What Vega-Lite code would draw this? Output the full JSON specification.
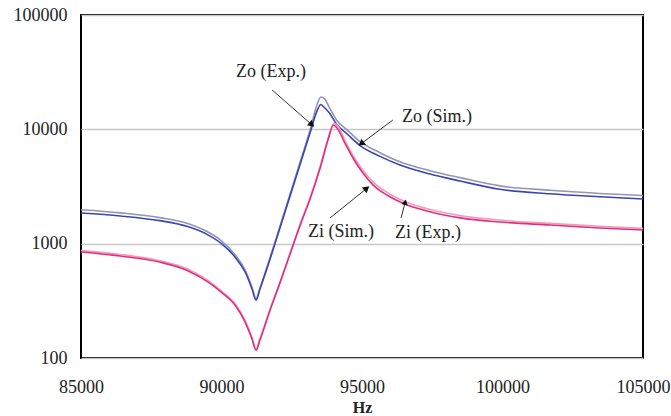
{
  "$schema": "https://vega.github.io/schema/vega-lite/v6.json",
  "autosize": "none",
  "width": 562,
  "height": 343,
  "padding": {"left": 81, "top": 15, "right": 28, "bottom": 58},
  "background": "white",
  "config": {
    "view": {"stroke": "black", "strokeWidth": 2},
    "font": "Liberation Serif"
  },
  "datasets": {
    "curves": [
      {"series": "Zo (Exp.)", "hz": 85000, "z": 1980},
      {"series": "Zo (Exp.)", "hz": 86400, "z": 1860},
      {"series": "Zo (Exp.)", "hz": 87800, "z": 1690},
      {"series": "Zo (Exp.)", "hz": 88800, "z": 1500},
      {"series": "Zo (Exp.)", "hz": 89500, "z": 1270},
      {"series": "Zo (Exp.)", "hz": 90000, "z": 1060},
      {"series": "Zo (Exp.)", "hz": 90480, "z": 800},
      {"series": "Zo (Exp.)", "hz": 90840, "z": 590},
      {"series": "Zo (Exp.)", "hz": 91080, "z": 420},
      {"series": "Zo (Exp.)", "hz": 91230, "z": 330},
      {"series": "Zo (Exp.)", "hz": 91370, "z": 410},
      {"series": "Zo (Exp.)", "hz": 91730, "z": 760},
      {"series": "Zo (Exp.)", "hz": 92080, "z": 1420},
      {"series": "Zo (Exp.)", "hz": 92440, "z": 2720},
      {"series": "Zo (Exp.)", "hz": 92790, "z": 5100},
      {"series": "Zo (Exp.)", "hz": 93150, "z": 9800},
      {"series": "Zo (Exp.)", "hz": 93400, "z": 16500},
      {"series": "Zo (Exp.)", "hz": 93540, "z": 19200},
      {"series": "Zo (Exp.)", "hz": 93680, "z": 18300},
      {"series": "Zo (Exp.)", "hz": 93860, "z": 15200},
      {"series": "Zo (Exp.)", "hz": 94100, "z": 12000},
      {"series": "Zo (Exp.)", "hz": 94470, "z": 9900},
      {"series": "Zo (Exp.)", "hz": 94930, "z": 7800},
      {"series": "Zo (Exp.)", "hz": 95640, "z": 6250},
      {"series": "Zo (Exp.)", "hz": 96350, "z": 5200},
      {"series": "Zo (Exp.)", "hz": 97420, "z": 4350},
      {"series": "Zo (Exp.)", "hz": 98490, "z": 3780},
      {"series": "Zo (Exp.)", "hz": 99910, "z": 3200},
      {"series": "Zo (Exp.)", "hz": 101690, "z": 2930},
      {"series": "Zo (Exp.)", "hz": 103470, "z": 2750},
      {"series": "Zo (Exp.)", "hz": 105000, "z": 2640},

      {"series": "Zo (Sim.)", "hz": 85000, "z": 1854},
      {"series": "Zo (Sim.)", "hz": 86400, "z": 1746},
      {"series": "Zo (Sim.)", "hz": 87800, "z": 1590},
      {"series": "Zo (Sim.)", "hz": 88800, "z": 1410},
      {"series": "Zo (Sim.)", "hz": 89500, "z": 1200},
      {"series": "Zo (Sim.)", "hz": 90000, "z": 1000},
      {"series": "Zo (Sim.)", "hz": 90480, "z": 764},
      {"series": "Zo (Sim.)", "hz": 90840, "z": 565},
      {"series": "Zo (Sim.)", "hz": 91080, "z": 405},
      {"series": "Zo (Sim.)", "hz": 91230, "z": 321},
      {"series": "Zo (Sim.)", "hz": 91370, "z": 401},
      {"series": "Zo (Sim.)", "hz": 91730, "z": 734},
      {"series": "Zo (Sim.)", "hz": 92080, "z": 1371},
      {"series": "Zo (Sim.)", "hz": 92440, "z": 2612},
      {"series": "Zo (Sim.)", "hz": 92790, "z": 4875},
      {"series": "Zo (Sim.)", "hz": 93150, "z": 9288},
      {"series": "Zo (Sim.)", "hz": 93400, "z": 14500},
      {"series": "Zo (Sim.)", "hz": 93530, "z": 16500},
      {"series": "Zo (Sim.)", "hz": 93650, "z": 15600},
      {"series": "Zo (Sim.)", "hz": 93860, "z": 13700},
      {"series": "Zo (Sim.)", "hz": 94100, "z": 11000},
      {"series": "Zo (Sim.)", "hz": 94470, "z": 9100},
      {"series": "Zo (Sim.)", "hz": 94930, "z": 7200},
      {"series": "Zo (Sim.)", "hz": 95640, "z": 5800},
      {"series": "Zo (Sim.)", "hz": 96350, "z": 4875},
      {"series": "Zo (Sim.)", "hz": 97420, "z": 4068},
      {"series": "Zo (Sim.)", "hz": 98490, "z": 3533},
      {"series": "Zo (Sim.)", "hz": 99910, "z": 2990},
      {"series": "Zo (Sim.)", "hz": 101690, "z": 2730},
      {"series": "Zo (Sim.)", "hz": 103470, "z": 2570},
      {"series": "Zo (Sim.)", "hz": 105000, "z": 2458},

      {"series": "Zi (Exp.)", "hz": 85000, "z": 870},
      {"series": "Zi (Exp.)", "hz": 86400, "z": 805},
      {"series": "Zi (Exp.)", "hz": 87800, "z": 710},
      {"series": "Zi (Exp.)", "hz": 88800, "z": 600},
      {"series": "Zi (Exp.)", "hz": 89500, "z": 480},
      {"series": "Zi (Exp.)", "hz": 90000, "z": 385},
      {"series": "Zi (Exp.)", "hz": 90480, "z": 298},
      {"series": "Zi (Exp.)", "hz": 90840, "z": 212},
      {"series": "Zi (Exp.)", "hz": 91080, "z": 152},
      {"series": "Zi (Exp.)", "hz": 91230, "z": 119},
      {"series": "Zi (Exp.)", "hz": 91370, "z": 147},
      {"series": "Zi (Exp.)", "hz": 91730, "z": 268},
      {"series": "Zi (Exp.)", "hz": 92080, "z": 462},
      {"series": "Zi (Exp.)", "hz": 92440, "z": 830},
      {"series": "Zi (Exp.)", "hz": 92790, "z": 1460},
      {"series": "Zi (Exp.)", "hz": 93150, "z": 2510},
      {"series": "Zi (Exp.)", "hz": 93510, "z": 4700},
      {"series": "Zi (Exp.)", "hz": 93790, "z": 8300},
      {"series": "Zi (Exp.)", "hz": 94000, "z": 11300},
      {"series": "Zi (Exp.)", "hz": 94150, "z": 10600},
      {"series": "Zi (Exp.)", "hz": 94400, "z": 7900},
      {"series": "Zi (Exp.)", "hz": 94700, "z": 5800},
      {"series": "Zi (Exp.)", "hz": 95000, "z": 4500},
      {"series": "Zi (Exp.)", "hz": 95400, "z": 3450},
      {"series": "Zi (Exp.)", "hz": 95900, "z": 2800},
      {"series": "Zi (Exp.)", "hz": 96500, "z": 2350},
      {"series": "Zi (Exp.)", "hz": 97420, "z": 1990},
      {"series": "Zi (Exp.)", "hz": 98490, "z": 1760},
      {"series": "Zi (Exp.)", "hz": 99910, "z": 1610},
      {"series": "Zi (Exp.)", "hz": 101690, "z": 1505},
      {"series": "Zi (Exp.)", "hz": 103470, "z": 1420},
      {"series": "Zi (Exp.)", "hz": 105000, "z": 1360},

      {"series": "Zi (Sim.)", "hz": 85000, "z": 845},
      {"series": "Zi (Sim.)", "hz": 86400, "z": 780},
      {"series": "Zi (Sim.)", "hz": 87800, "z": 690},
      {"series": "Zi (Sim.)", "hz": 88800, "z": 580},
      {"series": "Zi (Sim.)", "hz": 89500, "z": 465},
      {"series": "Zi (Sim.)", "hz": 90000, "z": 375},
      {"series": "Zi (Sim.)", "hz": 90480, "z": 291},
      {"series": "Zi (Sim.)", "hz": 90840, "z": 206},
      {"series": "Zi (Sim.)", "hz": 91080, "z": 148},
      {"series": "Zi (Sim.)", "hz": 91230, "z": 117},
      {"series": "Zi (Sim.)", "hz": 91370, "z": 144},
      {"series": "Zi (Sim.)", "hz": 91730, "z": 263},
      {"series": "Zi (Sim.)", "hz": 92080, "z": 453},
      {"series": "Zi (Sim.)", "hz": 92440, "z": 812},
      {"series": "Zi (Sim.)", "hz": 92790, "z": 1427},
      {"series": "Zi (Sim.)", "hz": 93150, "z": 2458},
      {"series": "Zi (Sim.)", "hz": 93510, "z": 4590},
      {"series": "Zi (Sim.)", "hz": 93790, "z": 8066},
      {"series": "Zi (Sim.)", "hz": 93980, "z": 10900},
      {"series": "Zi (Sim.)", "hz": 94120, "z": 10200},
      {"series": "Zi (Sim.)", "hz": 94400, "z": 7500},
      {"series": "Zi (Sim.)", "hz": 94700, "z": 5500},
      {"series": "Zi (Sim.)", "hz": 95000, "z": 4250},
      {"series": "Zi (Sim.)", "hz": 95400, "z": 3250},
      {"series": "Zi (Sim.)", "hz": 95900, "z": 2650},
      {"series": "Zi (Sim.)", "hz": 96500, "z": 2230},
      {"series": "Zi (Sim.)", "hz": 97420, "z": 1900},
      {"series": "Zi (Sim.)", "hz": 98490, "z": 1680},
      {"series": "Zi (Sim.)", "hz": 99910, "z": 1546},
      {"series": "Zi (Sim.)", "hz": 101690, "z": 1456},
      {"series": "Zi (Sim.)", "hz": 103470, "z": 1371},
      {"series": "Zi (Sim.)", "hz": 105000, "z": 1317}
    ],
    "labels": [
      {"label": "Zo (Exp.)", "hz": 91760, "z": 31700},
      {"label": "Zo (Sim.)", "hz": 97670, "z": 12800},
      {"label": "Zi (Sim.)", "hz": 94250, "z": 1265},
      {"label": "Zi (Exp.)", "hz": 97350, "z": 1250}
    ],
    "arrows": [
      {"label": "Zo (Exp.)", "hz": 91800, "z": 22080, "hz2": 93185, "z2": 11140},
      {"label": "Zo (Sim.)", "hz": 96100, "z": 12070, "hz2": 95000, "z2": 7590},
      {"label": "Zi (Sim.)", "hz": 93860, "z": 1675, "hz2": 95140, "z2": 3006},
      {"label": "Zi (Exp.)", "hz": 96390, "z": 1675, "hz2": 96530, "z2": 2270}
    ]
  },
  "layer": [
    {
      "data": {"name": "curves"},
      "mark": {"type": "line", "strokeWidth": 1.6, "clip": true, "interpolate": "monotone"},
      "encoding": {
        "x": {
          "field": "hz", "type": "quantitative",
          "scale": {"domain": [85000, 105000], "nice": false, "zero": false},
          "axis": {
            "values": [85000, 90000, 95000, 100000, 105000],
            "format": "d", "grid": false, "domain": false, "ticks": false,
            "labelFont": "Liberation Serif", "labelFontSize": 18, "labelColor": "#222",
            "labelPadding": 20, "labelFlush": false,
            "title": "Hz", "titleFont": "Liberation Serif", "titleFontSize": 16,
            "titleFontWeight": "bold", "titleColor": "#222", "titlePadding": 3
          }
        },
        "y": {
          "field": "z", "type": "quantitative",
          "scale": {"type": "log", "domain": [100, 100000], "nice": false},
          "axis": {
            "values": [100, 1000, 10000, 100000],
            "format": "d", "grid": true, "gridColor": "#c8c8c8", "gridWidth": 1.5,
            "domain": false, "ticks": false,
            "labelFont": "Liberation Serif", "labelFontSize": 18, "labelColor": "#222",
            "labelPadding": 14, "title": null
          }
        },
        "color": {
          "field": "series", "type": "nominal",
          "scale": {
            "domain": ["Zo (Exp.)", "Zo (Sim.)", "Zi (Exp.)", "Zi (Sim.)"],
            "range": ["#9296b4", "#3a46b2", "#f09cc0", "#e0307c"]
          },
          "legend": null
        },
        "order": {"field": "hz", "type": "quantitative"}
      }
    },
    {
      "data": {"name": "arrows"},
      "mark": {"type": "rule", "color": "#333", "strokeWidth": 1},
      "encoding": {
        "x": {"field": "hz", "type": "quantitative"},
        "y": {"field": "z", "type": "quantitative"},
        "x2": {"field": "hz2"},
        "y2": {"field": "z2"}
      }
    },
    {
      "data": {"name": "arrows"},
      "transform": [{"filter": "datum.label == 'Zo (Exp.)'"}],
      "mark": {"type": "point", "shape": "triangle", "filled": true, "color": "#111", "size": 55, "opacity": 1, "angle": 131},
      "encoding": {
        "x": {"field": "hz2", "type": "quantitative"},
        "y": {"field": "z2", "type": "quantitative"}
      }
    },
    {
      "data": {"name": "arrows"},
      "transform": [{"filter": "datum.label == 'Zo (Sim.)'"}],
      "mark": {"type": "point", "shape": "triangle", "filled": true, "color": "#111", "size": 55, "opacity": 1, "angle": 233},
      "encoding": {
        "x": {"field": "hz2", "type": "quantitative"},
        "y": {"field": "z2", "type": "quantitative"}
      }
    },
    {
      "data": {"name": "arrows"},
      "transform": [{"filter": "datum.label == 'Zi (Sim.)'"}],
      "mark": {"type": "point", "shape": "triangle", "filled": true, "color": "#111", "size": 55, "opacity": 1, "angle": 51},
      "encoding": {
        "x": {"field": "hz2", "type": "quantitative"},
        "y": {"field": "z2", "type": "quantitative"}
      }
    },
    {
      "data": {"name": "arrows"},
      "transform": [{"filter": "datum.label == 'Zi (Exp.)'"}],
      "mark": {"type": "point", "shape": "triangle", "filled": true, "color": "#111", "size": 40, "opacity": 1, "angle": 15},
      "encoding": {
        "x": {"field": "hz2", "type": "quantitative"},
        "y": {"field": "z2", "type": "quantitative"}
      }
    },
    {
      "data": {"name": "labels"},
      "mark": {"type": "text", "font": "Liberation Serif", "fontSize": 18, "color": "#222", "align": "center", "baseline": "middle"},
      "encoding": {
        "x": {"field": "hz", "type": "quantitative"},
        "y": {"field": "z", "type": "quantitative"},
        "text": {"field": "label"}
      }
    }
  ]
}
